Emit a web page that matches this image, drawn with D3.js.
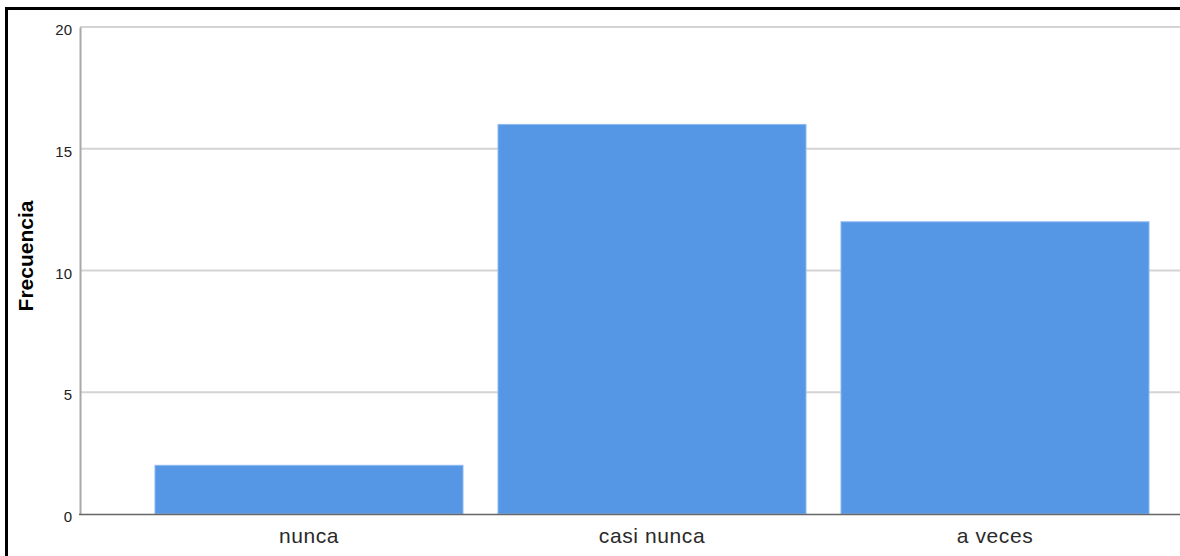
<!DOCTYPE html>
<html><head><meta charset="utf-8">
<script src="https://cdn.jsdelivr.net/npm/d3@7"></script>
<style>body{margin:0;background:#fff}svg{display:block}</style>
</head><body>
<svg id="c" width="1180" height="556"></svg>
<script>
const categories = ["nunca", "casi nunca", "a veces"];
const values = [2, 16, 12];
const yTicks = [0, 5, 10, 15, 20];
const yLabel = "Frecuencia";

const svg = d3.select("#c");
const FONT = "Arial, 'Liberation Sans', sans-serif";
const plotTop = 27, plotBottom = 514, plotLeft = 80, plotRight = 1180;
const y = d3.scaleLinear().domain([0, 20]).range([plotBottom, plotTop]);
const x = d3.scaleBand().domain(categories).range([137.5, 1166.5]).paddingInner(0.102).paddingOuter(0.051);

// frame
svg.append("rect").attr("x", 6.5).attr("y", 8.5).attr("width", 1200).attr("height", 600)
  .attr("fill", "none").attr("stroke", "#000").attr("stroke-width", 3);

// gridlines
svg.append("g").selectAll("line").data(yTicks.filter(d => d > 0)).join("line")
  .attr("x1", plotLeft).attr("x2", plotRight)
  .attr("y1", d => y(d)).attr("y2", d => y(d))
  .attr("stroke", "#d4d4d4").attr("stroke-width", 2);

// y axis
const yAxis = d3.axisLeft(y).tickValues(yTicks).tickSize(0).tickPadding(8);
const gy = svg.append("g").attr("transform", `translate(${plotLeft},0)`).call(yAxis);
gy.select(".domain").attr("stroke", "#a8a8a8").attr("stroke-width", 2);
gy.selectAll("text").attr("font-family", FONT).attr("font-size", 15).attr("fill", "#222").attr("dy", "0.5em");

// bars
svg.append("g").selectAll("rect").data(values).join("rect")
  .attr("x", (d, i) => x(categories[i]))
  .attr("width", x.bandwidth())
  .attr("y", d => y(d))
  .attr("height", d => y(0) - y(d))
  .attr("fill", "#5596e5")
  .attr("stroke", "#8fbaf0").attr("stroke-width", 1);

// x axis
const xAxis = d3.axisBottom(x).tickSize(0).tickPadding(0);
const gx = svg.append("g").attr("transform", `translate(0,${plotBottom})`).call(xAxis);
gx.select(".domain").remove();
gx.selectAll("text").attr("font-family", FONT).attr("font-size", 21).attr("fill", "#2a2a2a")
  .attr("letter-spacing", "0.6px").attr("dy", null).attr("y", 29);
svg.append("line").attr("x1", plotLeft - 1).attr("x2", plotRight).attr("y1", plotBottom + 0.5).attr("y2", plotBottom + 0.5)
  .attr("stroke", "#666").attr("stroke-width", 1.5);

// y label
svg.append("text").attr("transform", `translate(33,256) rotate(-90)`)
  .attr("text-anchor", "middle").attr("font-family", FONT)
  .attr("font-weight", "bold").attr("font-size", 21).attr("fill", "#000").text(yLabel);
</script>
</body></html>
